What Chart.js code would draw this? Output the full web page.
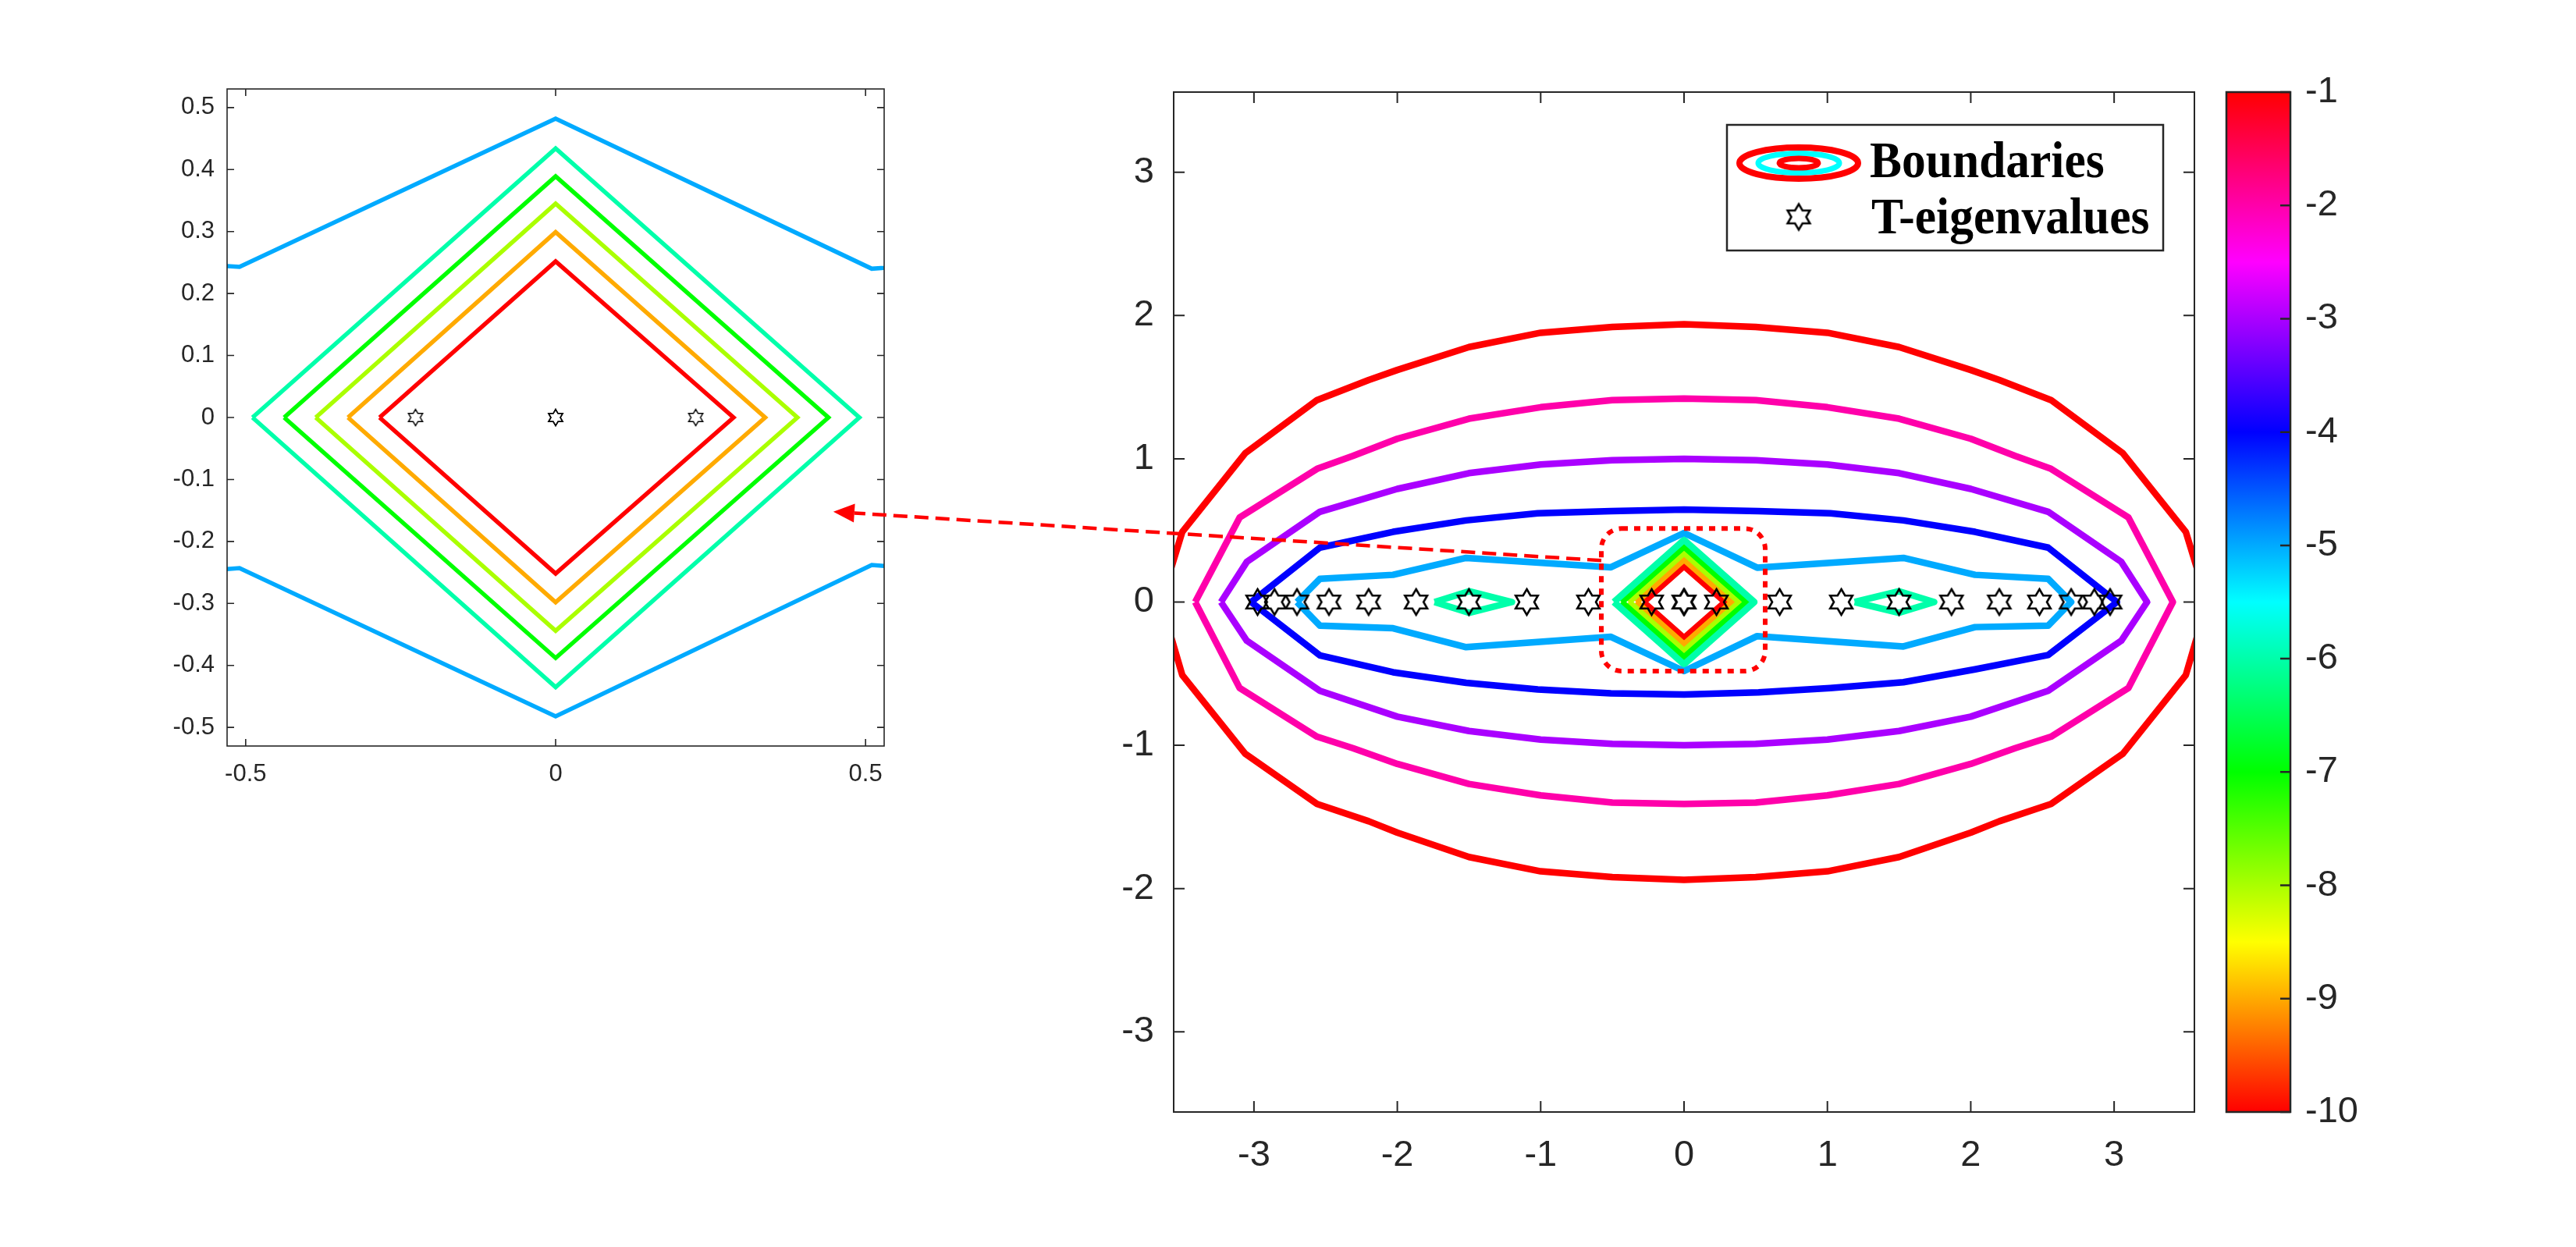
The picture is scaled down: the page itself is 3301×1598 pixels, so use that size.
<!DOCTYPE html>
<html>
<head>
<meta charset="utf-8">
<title>Boundaries and T-eigenvalues</title>
<script src="https://cdn.jsdelivr.net/npm/chart.js@4.4.1/dist/chart.umd.min.js"></script>
<style>
  html, body { margin: 0; padding: 0; background: #ffffff; }
  body { width: 3301px; height: 1598px; position: relative; overflow: hidden; }
  canvas { position: absolute; }
</style>
</head>
<body>
<canvas id="insetChart" width="982" height="940" style="left:171px;top:96px"></canvas>
<canvas id="mainChart" width="1450" height="1425" style="left:1384px;top:100px"></canvas>
<canvas id="colorbar" width="222" height="1415" style="left:2833px;top:60px"></canvas>
<canvas id="arrowLayer" width="3301" height="1598" style="left:0;top:0;pointer-events:none"></canvas>

<script>
// ---------------- data ----------------

// contour levels and their colours (hsv colormap, -10 .. -1)
const levels = [-1, -2, -3, -4, -5, -6, -7, -8, -9, -10];
const levelColors = ['#ff0000', '#ff00aa', '#aa00ff', '#0000ff', '#00aaff',
                     '#00ffaa', '#00ff00', '#aaff00', '#ffaa00', '#ff0000'];

// level -1 (outer red, clipped at the left / right axis)
const lvl1X = [-3.65, -3.50, -3.06, -2.56, -2.20, -2.00, -1.50, -1.00, -0.50, 0, 0.50, 1.00, 1.50, 2.00, 2.20, 2.56, 3.06, 3.50, 3.65,
               3.50, 3.06, 2.56, 2.20, 2.00, 1.50, 1.00, 0.50, 0, -0.50, -1.00, -1.50, -2.00, -2.20, -2.56, -3.06, -3.50, -3.65];
const lvl1Y = [0, 0.49, 1.04, 1.41, 1.55, 1.62, 1.78, 1.88, 1.92, 1.94, 1.92, 1.88, 1.78, 1.62, 1.55, 1.41, 1.04, 0.49, 0,
               -0.51, -1.06, -1.41, -1.53, -1.61, -1.78, -1.88, -1.92, -1.94, -1.92, -1.88, -1.78, -1.61, -1.53, -1.41, -1.06, -0.51, 0];

// level -2 (pink)
const lvl2X = [-3.41, -3.10, -2.56, -2.31, -2.00, -1.50, -1.00, -0.50, 0, 0.50, 1.00, 1.50, 2.00, 2.31, 2.56, 3.10, 3.41,
               3.10, 2.56, 2.31, 2.00, 1.50, 1.00, 0.50, 0, -0.50, -1.00, -1.50, -2.00, -2.31, -2.56, -3.10, -3.41];
const lvl2Y = [0, 0.59, 0.93, 1.02, 1.14, 1.28, 1.36, 1.41, 1.42, 1.41, 1.36, 1.28, 1.14, 1.02, 0.93, 0.59, 0,
               -0.60, -0.94, -1.02, -1.13, -1.27, -1.35, -1.40, -1.41, -1.40, -1.35, -1.27, -1.13, -1.02, -0.94, -0.60, 0];

// level -3 (purple)
const lvl3X = [-3.23, -3.05, -2.54, -2.00, -1.50, -1.00, -0.50, 0, 0.50, 1.00, 1.50, 2.00, 2.54, 3.05, 3.23,
               3.05, 2.54, 2.00, 1.50, 1.00, 0.50, 0, -0.50, -1.00, -1.50, -2.00, -2.54, -3.05, -3.23];
const lvl3Y = [0, 0.28, 0.63, 0.79, 0.90, 0.96, 0.99, 1.00, 0.99, 0.96, 0.90, 0.79, 0.63, 0.28, 0,
               -0.27, -0.62, -0.80, -0.90, -0.96, -0.99, -1.00, -0.99, -0.96, -0.90, -0.80, -0.62, -0.27, 0];

// level -4 (blue)
const lvl4X = [-3.02, -2.54, -2.03, -1.52, -1.02, -0.51, 0, 0.52, 1.02, 1.53, 2.03, 2.54, 3.02,
               2.54, 2.03, 1.53, 1.02, 0.52, 0, -0.51, -1.02, -1.52, -2.03, -2.54, -3.02];
const lvl4Y = [0, 0.38, 0.49, 0.57, 0.62, 0.635, 0.645, 0.635, 0.62, 0.57, 0.49, 0.38, 0,
               -0.37, -0.47, -0.56, -0.60, -0.63, -0.645, -0.637, -0.61, -0.564, -0.49, -0.373, 0];

// level -5 (light blue)
const lvl5X = [-2.70, -2.54, -2.03, -1.52, -0.51, 0, 0.51, 1.53, 2.03, 2.54, 2.70,
               2.54, 2.03, 1.53, 0.51, 0, -0.51, -1.52, -2.03, -2.54, -2.70];
const lvl5Y = [0, 0.162, 0.19, 0.308, 0.243, 0.482, 0.24, 0.308, 0.19, 0.162, 0,
               -0.165, -0.175, -0.31, -0.238, -0.482, -0.243, -0.315, -0.183, -0.165, 0];

// level -6 (centre diamond + two small lenses)
const lvl6X = [-0.489, 0, 0.49, 0, -0.489];
const lvl6Y = [0, 0.434, 0, -0.435, 0];
const lens6LeftX = [-1.74, -1.50, -1.20, -1.50, -1.74];
const lens6LeftY = [0, 0.075, 0, -0.075, 0];
const lens6RightX = [1.19, 1.50, 1.745, 1.50, 1.19];
const lens6RightY = [0, 0.075, 0, -0.075, 0];

// levels -7 .. -10 (nested diamonds)
const lvl7X = [-0.438, 0, 0.44, 0, -0.438];
const lvl7Y = [0, 0.389, 0, -0.388, 0];
const lvl8X = [-0.387, 0, 0.39, 0, -0.387];
const lvl8Y = [0, 0.345, 0, -0.344, 0];
const lvl9X = [-0.335, 0, 0.338, 0, -0.335];
const lvl9Y = [0, 0.299, 0, -0.298, 0];
const lvl10X = [-0.284, 0, 0.287, 0, -0.284];
const lvl10Y = [0, 0.252, 0, -0.252, 0];

// T-eigenvalues (all on the real axis)
const eigX = [-2.975, -2.857, -2.70, -2.477, -2.20, -1.869, -1.501, -1.097, -0.667, -0.226, 0, 0,
              0.226, 0.667, 1.097, 1.50, 1.866, 2.199, 2.479, 2.70, 2.862, 2.972];
const eigY = [0, 0, 0, 0, 0, 0, 0, 0, 0, 0, 0, 0, 0, 0, 0, 0, 0, 0, 0, 0, 0, 0];

// tick labels
const mainTicks = [-3, -2, -1, 0, 1, 2, 3];
const insetXTicks = [-0.5, 0, 0.5];
const insetYTicks = [-0.5, -0.4, -0.3, -0.2, -0.1, 0, 0.1, 0.2, 0.3, 0.4, 0.5];
const colorbarTicks = [-1, -2, -3, -4, -5, -6, -7, -8, -9, -10];

// axis ranges
const mainRange = [-3.56, 3.56];
const insetRange = [-0.53, 0.53];
const colorbarRange = [-10, -1];

// colorbar gradient stops
const cbStopValues = [-1, -2.5, -4, -5.5, -7, -8.5, -10];
const cbStopColors = ['#ff0000', '#ff00ff', '#0000ff', '#00ffff', '#00ff00', '#ffff00', '#ff0000'];

// zoom box (main coords) and arrow ends (main coords -> inset coords)
const zoomBoxX = [-0.577, 0.566];
const zoomBoxY = [-0.482, 0.513];
const arrowFrom = [-0.577, 0.29];
const arrowTo = [0.448, -0.152];

const legendLabels = ['Boundaries', 'T-eigenvalues'];

// ---------------- helpers ----------------

const AXIS_COLOR = '#262626';
const TICK_FONT = "'Liberation Sans', Arial, sans-serif";

const contours = [
  { level: -1, x: lvl1X, y: lvl1Y },
  { level: -2, x: lvl2X, y: lvl2Y },
  { level: -3, x: lvl3X, y: lvl3Y },
  { level: -4, x: lvl4X, y: lvl4Y },
  { level: -5, x: lvl5X, y: lvl5Y },
  { level: -6, x: lvl6X, y: lvl6Y },
  { level: -6, x: lens6LeftX, y: lens6LeftY },
  { level: -6, x: lens6RightX, y: lens6RightY },
  { level: -7, x: lvl7X, y: lvl7Y },
  { level: -8, x: lvl8X, y: lvl8Y },
  { level: -9, x: lvl9X, y: lvl9Y },
  { level: -10, x: lvl10X, y: lvl10Y }
];

function toPoints(xs, ys) {
  return xs.map((x, i) => ({ x: x, y: ys[i] }));
}

function colorForLevel(level) {
  return levelColors[levels.indexOf(level)];
}

// MATLAB style hexagram marker
function makeHexagram(R, lw) {
  const size = Math.ceil(2 * R + 2 * lw + 2);
  const c = document.createElement('canvas');
  c.width = size;
  c.height = size;
  const g = c.getContext('2d');
  const r = R / Math.sqrt(3);
  g.beginPath();
  for (let k = 0; k < 12; k++) {
    const ang = -Math.PI / 2 + k * Math.PI / 6;
    const rad = k % 2 === 0 ? R : r;
    g.lineTo(size / 2 + rad * Math.cos(ang), size / 2 + rad * Math.sin(ang));
  }
  g.closePath();
  g.lineWidth = lw;
  g.lineJoin = 'miter';
  g.strokeStyle = '#000000';
  g.stroke();
  return c;
}

const starBig = makeHexagram(16.5, 2.6);
const starSmall = makeHexagram(10.5, 1.5);

function buildDatasets(lineWidth, star, joinStyle) {
  const sets = [{
    label: legendLabels[1],
    data: toPoints(eigX, eigY),
    showLine: false,
    pointStyle: star,
    pointRadius: 16,
    order: 0
  }];
  contours.forEach(c => {
    sets.push({
      label: legendLabels[0] + ' ' + c.level,
      data: toPoints(c.x, c.y),
      showLine: true,
      borderColor: colorForLevel(c.level),
      borderWidth: lineWidth,
      borderJoinStyle: joinStyle,
      pointRadius: 0,
      fill: false,
      tension: 0,
      order: 1
    });
  });
  return sets;
}

function linearAxis(range, ticks, fontSize, padding, axisSize, isX) {
  return {
    type: 'linear',
    min: range[0],
    max: range[1],
    grid: { display: false, drawTicks: false },
    border: { display: false },
    afterBuildTicks: scale => { scale.ticks = ticks.map(v => ({ value: v })); },
    afterFit: scale => {
      // fixed axis sizes so the plot boxes land where the figure has them
      if (isX) scale.height = axisSize; else scale.width = axisSize;
      scale.paddingTop = 0;
      scale.paddingBottom = 0;
      scale.paddingLeft = 0;
      scale.paddingRight = 0;
    },
    ticks: {
      autoSkip: false,
      maxRotation: 0,
      padding: padding,
      color: AXIS_COLOR,
      font: { family: TICK_FONT, size: fontSize },
      callback: v => String(v)
    }
  };
}

// box around the axes with inward ticks on the chosen sides
function drawAxesBox(chart, cfg) {
  const { ctx, chartArea: a, scales } = chart;
  ctx.save();
  ctx.strokeStyle = AXIS_COLOR;
  ctx.lineWidth = cfg.lineWidth;
  ctx.beginPath();
  if (cfg.xTicks) {
    scales.x.ticks.forEach(t => {
      const px = scales.x.getPixelForValue(t.value);
      ctx.moveTo(px, a.bottom); ctx.lineTo(px, a.bottom - cfg.tickLen);
      ctx.moveTo(px, a.top); ctx.lineTo(px, a.top + cfg.tickLen);
    });
  }
  scales.y.ticks.forEach(t => {
    const py = scales.y.getPixelForValue(t.value);
    if (cfg.leftTicks) { ctx.moveTo(a.left, py); ctx.lineTo(a.left + cfg.tickLen, py); }
    if (cfg.rightTicks) { ctx.moveTo(a.right, py); ctx.lineTo(a.right - cfg.tickLen, py); }
  });
  ctx.stroke();
  ctx.strokeRect(a.left, a.top, a.right - a.left, a.bottom - a.top);
  ctx.restore();
}

function drawZoomBox(chart) {
  const { ctx, scales } = chart;
  const x0 = scales.x.getPixelForValue(zoomBoxX[0]);
  const x1 = scales.x.getPixelForValue(zoomBoxX[1]);
  const y0 = scales.y.getPixelForValue(zoomBoxY[1]);
  const y1 = scales.y.getPixelForValue(zoomBoxY[0]);
  const r = 26;
  ctx.save();
  ctx.strokeStyle = '#ff0000';
  ctx.lineWidth = 6;
  ctx.setLineDash([8, 8]);
  ctx.beginPath();
  ctx.moveTo(x0 + r, y0);
  ctx.arcTo(x1, y0, x1, y1, r);
  ctx.arcTo(x1, y1, x0, y1, r);
  ctx.arcTo(x0, y1, x0, y0, r);
  ctx.arcTo(x0, y0, x1, y0, r);
  ctx.closePath();
  ctx.stroke();
  ctx.restore();
}

function drawLegend(chart) {
  const { ctx, chartArea: a } = chart;
  const left = a.right - 599;
  const top = a.top + 42;
  const w = 559, h = 161;
  ctx.save();
  ctx.fillStyle = '#ffffff';
  ctx.fillRect(left, top, w, h);
  ctx.strokeStyle = AXIS_COLOR;
  ctx.lineWidth = 2.5;
  ctx.strokeRect(left, top, w, h);

  // boundaries icon: nested ellipses
  const cx = left + 92, cy = top + 49;
  const rings = [[76, 20, '#ff0000', 8], [52, 12.5, '#00ffff', 7], [25, 6, '#ff0000', 7]];
  rings.forEach(([rx, ry, col, lw]) => {
    ctx.beginPath();
    ctx.ellipse(cx, cy, rx, ry, 0, 0, Math.PI * 2);
    ctx.strokeStyle = col;
    ctx.lineWidth = lw;
    ctx.stroke();
  });

  // eigenvalue icon
  ctx.drawImage(starBig, cx - starBig.width / 2, top + 118 - starBig.height / 2);

  // legend text is a little taller than plain Times, stretch it slightly
  ctx.fillStyle = '#000000';
  ctx.font = "bold 58px 'Liberation Serif', 'Times New Roman', serif";
  ctx.textBaseline = 'alphabetic';
  ctx.textAlign = 'left';
  [[legendLabels[0], left + 183, top + 67], [legendLabels[1], left + 185, top + 139]].forEach(([txt, x, y]) => {
    ctx.save();
    ctx.translate(x, y);
    ctx.scale(1.06, 1.12);
    ctx.fillText(txt, 0, 0);
    ctx.restore();
  });
  ctx.restore();
}

// ---------------- charts ----------------

Chart.defaults.font.family = TICK_FONT;

const insetChart = new Chart(document.getElementById('insetChart'), {
  type: 'scatter',
  data: { datasets: buildDatasets(5.5, starSmall, 'miter') },
  options: {
    responsive: false,
    animation: false,
    devicePixelRatio: 1,
    events: [],
    layout: { padding: { top: 18, right: 20, left: 0, bottom: 0 } },
    plugins: { legend: { display: false }, tooltip: { enabled: false } },
    scales: {
      x: linearAxis(insetRange, insetXTicks, 31, 18, 80, true),
      y: linearAxis(insetRange, insetYTicks, 31, 16, 120, false)
    }
  },
  plugins: [{
    id: 'insetBox',
    afterDatasetsDraw(chart) {
      drawAxesBox(chart, { lineWidth: 1.6, tickLen: 9, xTicks: true, leftTicks: true, rightTicks: true });
    }
  }]
});

const mainChart = new Chart(document.getElementById('mainChart'), {
  type: 'scatter',
  data: { datasets: buildDatasets(8.5, starBig, 'round') },
  options: {
    responsive: false,
    animation: false,
    devicePixelRatio: 1,
    events: [],
    layout: { padding: { top: 18, right: 22, left: 0, bottom: 0 } },
    plugins: { legend: { display: false }, tooltip: { enabled: false } },
    scales: {
      x: linearAxis(mainRange, mainTicks, 47, 28, 100, true),
      y: linearAxis(mainRange, mainTicks, 47, 25, 120, false)
    }
  },
  plugins: [{
    id: 'mainBox',
    afterDatasetsDraw(chart) {
      drawZoomBox(chart);
      drawAxesBox(chart, { lineWidth: 2, tickLen: 14, xTicks: true, leftTicks: true, rightTicks: true });
      drawLegend(chart);
    }
  }]
});

const colorbarChart = new Chart(document.getElementById('colorbar'), {
  type: 'bar',
  data: {
    labels: ['colorbar'],
    datasets: [{
      data: [colorbarRange],
      borderWidth: 0,
      barPercentage: 1,
      categoryPercentage: 1,
      backgroundColor: ctx => {
        const chart = ctx.chart;
        if (!chart.chartArea) return '#ffffff';
        const y = chart.scales.y;
        const g = chart.ctx.createLinearGradient(0, y.getPixelForValue(colorbarRange[1]), 0, y.getPixelForValue(colorbarRange[0]));
        const span = colorbarRange[1] - colorbarRange[0];
        cbStopValues.forEach((v, i) => g.addColorStop((colorbarRange[1] - v) / span, cbStopColors[i]));
        return g;
      }
    }]
  },
  options: {
    responsive: false,
    animation: false,
    devicePixelRatio: 1,
    events: [],
    layout: { padding: { top: 58, right: 0, left: 20, bottom: 50 } },
    plugins: { legend: { display: false }, tooltip: { enabled: false } },
    scales: {
      x: { display: false },
      y: Object.assign(linearAxis(colorbarRange, colorbarTicks, 47, 19, 120, false), { position: 'right' })
    }
  },
  plugins: [{
    id: 'colorbarBox',
    afterDatasetsDraw(chart) {
      drawAxesBox(chart, { lineWidth: 2.5, tickLen: 13, xTicks: false, leftTicks: false, rightTicks: true });
    }
  }]
});

// ---------------- arrow from the zoom box to the inset ----------------

function drawArrow() {
  const ctx = document.getElementById('arrowLayer').getContext('2d');
  const mainEl = mainChart.canvas, insetEl = insetChart.canvas;
  const x0 = parseFloat(mainEl.style.left) + mainChart.scales.x.getPixelForValue(arrowFrom[0]);
  const y0 = parseFloat(mainEl.style.top) + mainChart.scales.y.getPixelForValue(arrowFrom[1]);
  const x1 = parseFloat(insetEl.style.left) + insetChart.scales.x.getPixelForValue(arrowTo[0]);
  const y1 = parseFloat(insetEl.style.top) + insetChart.scales.y.getPixelForValue(arrowTo[1]);

  const len = Math.hypot(x1 - x0, y1 - y0);
  const ux = (x1 - x0) / len, uy = (y1 - y0) / len;
  const headLen = 27, headHalf = 12;
  const bx = x1 - ux * headLen, by = y1 - uy * headLen;

  ctx.strokeStyle = '#ff0000';
  ctx.fillStyle = '#ff0000';
  ctx.lineWidth = 4.5;
  ctx.setLineDash([18, 9]);
  ctx.beginPath();
  ctx.moveTo(x0, y0);
  ctx.lineTo(bx, by);
  ctx.stroke();

  ctx.setLineDash([]);
  ctx.beginPath();
  ctx.moveTo(x1, y1);
  ctx.lineTo(bx - uy * headHalf, by + ux * headHalf);
  ctx.lineTo(bx + uy * headHalf, by - ux * headHalf);
  ctx.closePath();
  ctx.fill();
}

drawArrow();
</script>
</body>
</html>
